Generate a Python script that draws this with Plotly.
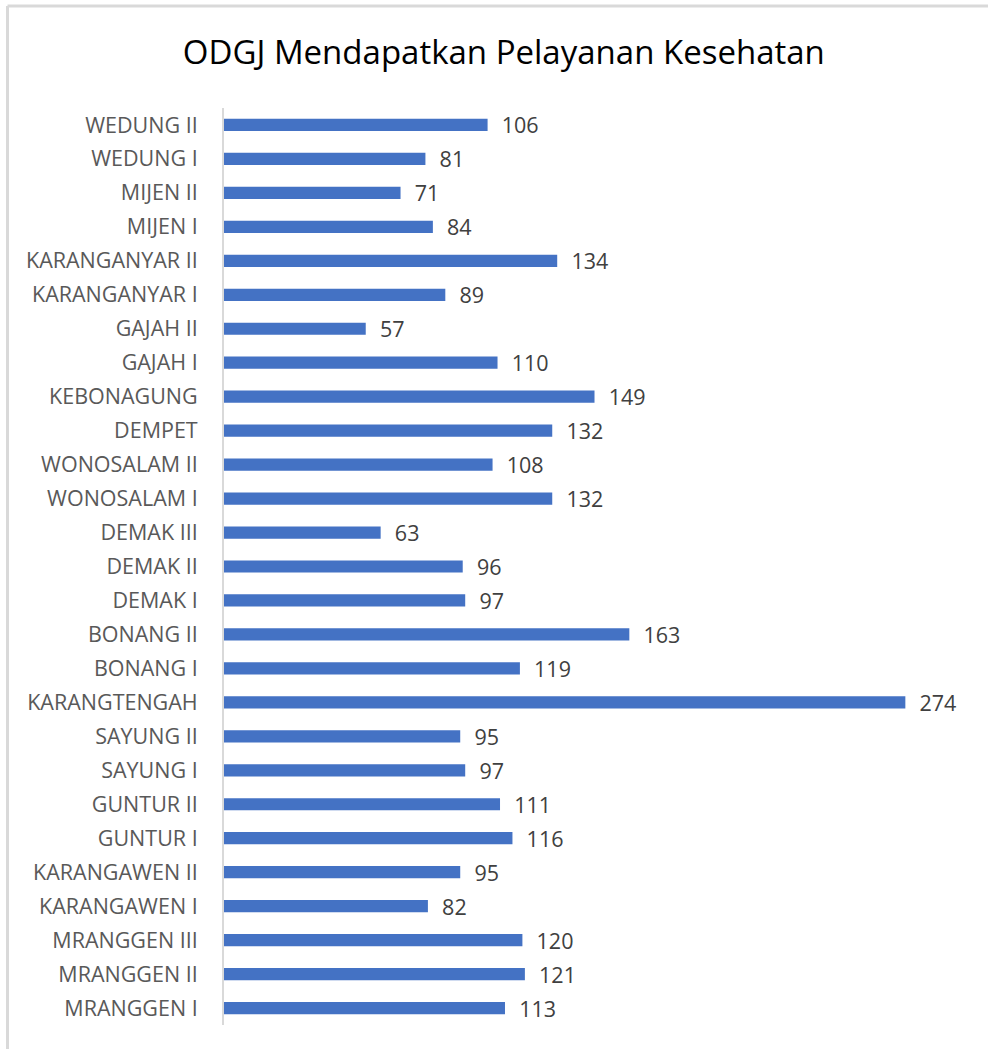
import plotly.graph_objects as go

# Puskesmas names, bottom to top as drawn on the category axis
puskesmas = [
    "MRANGGEN I", "MRANGGEN II", "MRANGGEN III", "KARANGAWEN I", "KARANGAWEN II",
    "GUNTUR I", "GUNTUR II", "SAYUNG I", "SAYUNG II", "KARANGTENGAH",
    "BONANG I", "BONANG II", "DEMAK I", "DEMAK II", "DEMAK III",
    "WONOSALAM I", "WONOSALAM II", "DEMPET", "KEBONAGUNG", "GAJAH I",
    "GAJAH II", "KARANGANYAR I", "KARANGANYAR II", "MIJEN I", "MIJEN II",
    "WEDUNG I", "WEDUNG II",
]
jumlah_odgj = [
    113, 121, 120, 82, 95,
    116, 111, 97, 95, 274,
    119, 163, 97, 96, 63,
    132, 108, 132, 149, 110,
    57, 89, 134, 84, 71,
    81, 106,
]

W, H = 988, 1049
left, right, top, bottom = 224, 18, 108, 24

fig = go.Figure(
    go.Bar(
        y=puskesmas,
        x=jumlah_odgj,
        orientation="h",
        marker=dict(color="#4472C4", line=dict(width=0)),
        texttemplate="  %{x}",
        textposition="outside",
        constraintext="none",
        cliponaxis=False,
        textfont=dict(family="Open Sans, sans-serif", size=21.5, color="#404040"),
        width=0.36,
        hoverinfo="skip",
    )
)

fig.update_layout(
    width=W,
    height=H,
    margin=dict(l=left, r=right, t=top, b=bottom, pad=0),
    paper_bgcolor="white",
    plot_bgcolor="white",
    showlegend=False,
    title=dict(
        text="ODGJ Mendapatkan Pelayanan Kesehatan",
        x=0.51,
        xanchor="center",
        y=1 - 52 / H,
        yanchor="middle",
        font=dict(family="Open Sans, sans-serif", size=33, color="#000000"),
    ),
    xaxis=dict(
        range=[0, 300],
        visible=False,
        showgrid=False,
        zeroline=False,
    ),
    yaxis=dict(
        categoryorder="array",
        categoryarray=puskesmas,
        showline=True,
        linecolor="#d9d9d9",
        linewidth=2,
        ticks="",
        ticklabelstandoff=20,
        tickfont=dict(family="Open Sans, sans-serif", size=21.5, color="#595959"),
        showgrid=False,
        zeroline=False,
    ),
    shapes=[
        dict(type="line", xref="paper", yref="paper",
             x0=-(left - 7.5) / (W - left - right), x1=1 + right / (W - left - right),
             y0=1 + (top - 6) / (H - top - bottom), y1=1 + (top - 6) / (H - top - bottom),
             line=dict(color="#d9d9d9", width=3)),
        dict(type="line", xref="paper", yref="paper",
             x0=-(left - 7.5) / (W - left - right), x1=-(left - 7.5) / (W - left - right),
             y0=-bottom / (H - top - bottom), y1=1 + (top - 6) / (H - top - bottom),
             line=dict(color="#d9d9d9", width=3)),
    ],
)

fig.write_html("out.html")
